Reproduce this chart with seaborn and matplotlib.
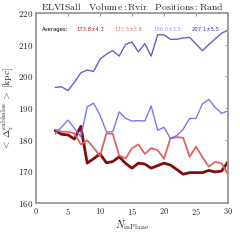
import numpy as np
import pandas as pd
import matplotlib
matplotlib.use("Agg")
import matplotlib.pyplot as plt
import seaborn as sns

n_inplane = list(range(3, 31))
dark_red = [182.8, 181.7, 181.5, 180.2, 184.2, 172.6, 174.0, 175.5, 172.7, 173.1,
            174.6, 172.5, 171.0, 172.6, 172.3, 171.0, 171.8, 172.6, 172.0, 170.6,
            169.1, 169.6, 169.6, 169.6, 170.3, 169.8, 170.1, 173.0]
light_red = [183.2, 182.5, 182.5, 182.0, 178.5, 179.8, 177.5, 174.8, 182.0, 181.8,
             175.0, 174.1, 177.3, 178.5, 175.5, 177.3, 176.7, 174.0, 180.4, 180.8,
             180.6, 174.6, 177.8, 174.5, 171.5, 173.0, 172.5, 169.0]
light_blue = [181.8, 184.0, 186.2, 183.6, 180.9, 190.4, 191.5, 187.8, 182.5, 182.5,
              188.8, 186.7, 185.9, 186.0, 185.9, 190.6, 183.0, 183.9, 180.4, 181.3,
              183.3, 186.7, 186.7, 191.3, 192.7, 190.2, 188.3, 189.1]
slate_blue = [196.5, 196.7, 195.5, 198.1, 201.1, 202.0, 201.5, 205.4, 207.0, 208.1,
              206.4, 210.1, 210.8, 207.7, 210.3, 206.4, 213.1, 213.1, 211.7, 211.7,
              212.1, 212.3, 210.2, 208.1, 210.0, 211.8, 213.6, 214.6]
avg_labels = ["173.8\u00b14.3", "177.5\u00b13.8", "186.0\u00b13.5", "207.1\u00b15.5"]

colors = ["#7a0000", "#e25a5c", "#7272ee", "#5a5ac8"]
text_colors = ["#9a2020", "#f07070", "#9a9af5", "#3a3aa0"]
widths = [2.0, 1.3, 1.0, 1.0]
series = [dark_red, light_red, light_blue, slate_blue]

sns.set_style("white")
plt.rcParams["font.family"] = ["DejaVu Serif"]
plt.rcParams["mathtext.fontset"] = "cm"
plt.rcParams["axes.formatter.use_mathtext"] = True

fig = plt.figure(figsize=(2.4, 2.4), dpi=100)
ax = fig.add_axes([0.15, 0.154, 0.80, 0.792])

for vals, c, w in zip(series, colors, widths):
    df = pd.DataFrame({"N": n_inplane, "D": vals})
    sns.lineplot(data=df, x="N", y="D", color=c, linewidth=w, ax=ax, alpha=0.95)

ax.set_xlim(0, 30)
ax.set_ylim(160, 220)
ax.set_xticks([0, 5, 10, 15, 20, 25, 30])
ax.set_yticks([160, 170, 180, 190, 200, 210, 220])
ax.set_xticklabels(["$%d$" % v for v in [0, 5, 10, 15, 20, 25, 30]], fontsize=6)
ax.set_yticklabels(["$%d$" % v for v in [160, 170, 180, 190, 200, 210, 220]], fontsize=6.5)
ax.tick_params(direction="in", length=2.5, width=0.6, color="#888888",
               top=True, right=True, pad=2)
for s in ax.spines.values():
    s.set_color("#999999")
    s.set_linewidth(1.3)

ax.set_xlabel(r"$N_{\rm inPlane}$", fontsize=7.5, labelpad=1)
ax.set_ylabel(r"$<\,\Delta_{\rm r}^{\rm subhalos}\,>\ [\rm kpc]$", fontsize=7, labelpad=2)
ax.set_title(r"$\rm ELVISall\quad Volume : Rvir\quad Positions : Rand$", fontsize=7, pad=2)

ax.text(0.03, 0.915, "Averages:", transform=ax.transAxes, fontsize=3.8,
        family="DejaVu Sans", color="black", va="center")
xs = [0.21, 0.41, 0.61, 0.81]
for xp, lab, tc in zip(xs, avg_labels, text_colors):
    ax.text(xp, 0.915, lab, transform=ax.transAxes, fontsize=3.8,
            family="DejaVu Sans", color=tc, va="center")

fig.savefig("out.png", dpi=100)
